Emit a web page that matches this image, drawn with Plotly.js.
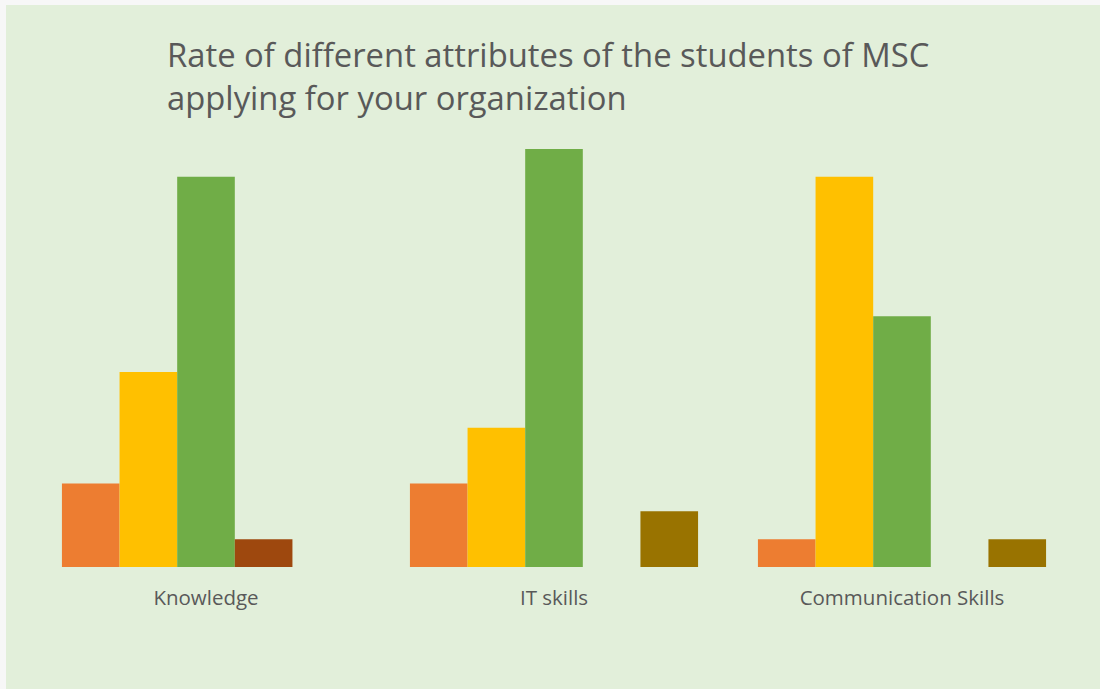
<!DOCTYPE html>
<html>
<head>
<meta charset="utf-8">
<script src="https://cdn.plot.ly/plotly-3.0.1.min.js"></script>
<style>
  html, body { margin: 0; padding: 0; background: #f7f7f7; width: 1100px; height: 689px; overflow: hidden; }
  #chart { position: absolute; left: 6px; top: 5px; width: 1094px; height: 684px; }
</style>
</head>
<body>
<div id="chart"></div>
<script>
const categories = ["Knowledge", "IT skills", "Communication Skills"];
const seriesNames = ["Series 1", "Series 2", "Series 3", "Series 4", "Series 5"];
const series1 = [3, 3, 1];
const series2 = [7, 5, 14];
const series3 = [14, 15, 9];
const series4 = [1, 0, 0];
const series5 = [0, 2, 1];
const colors = ["#ED7D31", "#FFC000", "#70AD47", "#9E480E", "#997300"];

const allSeries = [series1, series2, series3, series4, series5];
const traces = allSeries.map((vals, i) => ({
  type: "bar",
  name: seriesNames[i],
  x: categories,
  y: vals,
  marker: { color: colors[i], line: { width: 0 } },
  hoverinfo: "x+y+name"
}));

const layout = {
  width: 1094,
  height: 684,
  paper_bgcolor: "#E2EFDA",
  plot_bgcolor: "#E2EFDA",
  margin: { l: 26, r: 24, t: 116, b: 122 },
  barmode: "group",
  bargap: 0.172,
  bargroupgap: 0,
  showlegend: false,
  title: {
    text: "Rate of different attributes of the students of MSC<br>applying for your organization",
    font: { family: "Open Sans, sans-serif", size: 32.8, color: "#595959" },
    x: 161 / 1094,
    xanchor: "left",
    xref: "container",
    y: 1 - 62 / 684,
    yanchor: "top",
    yref: "container"
  },
  xaxis: {
    type: "category",
    showgrid: false,
    zeroline: false,
    showline: false,
    ticks: "outside",
    ticklen: 12,
    tickcolor: "rgba(0,0,0,0)",
    tickfont: { family: "Open Sans, sans-serif", size: 20.5, color: "#595959" }
  },
  yaxis: {
    range: [0, 16],
    visible: false,
    showgrid: false,
    zeroline: false
  }
};

Plotly.newPlot("chart", traces, layout, { displayModeBar: false, staticPlot: true });
</script>
</body>
</html>
